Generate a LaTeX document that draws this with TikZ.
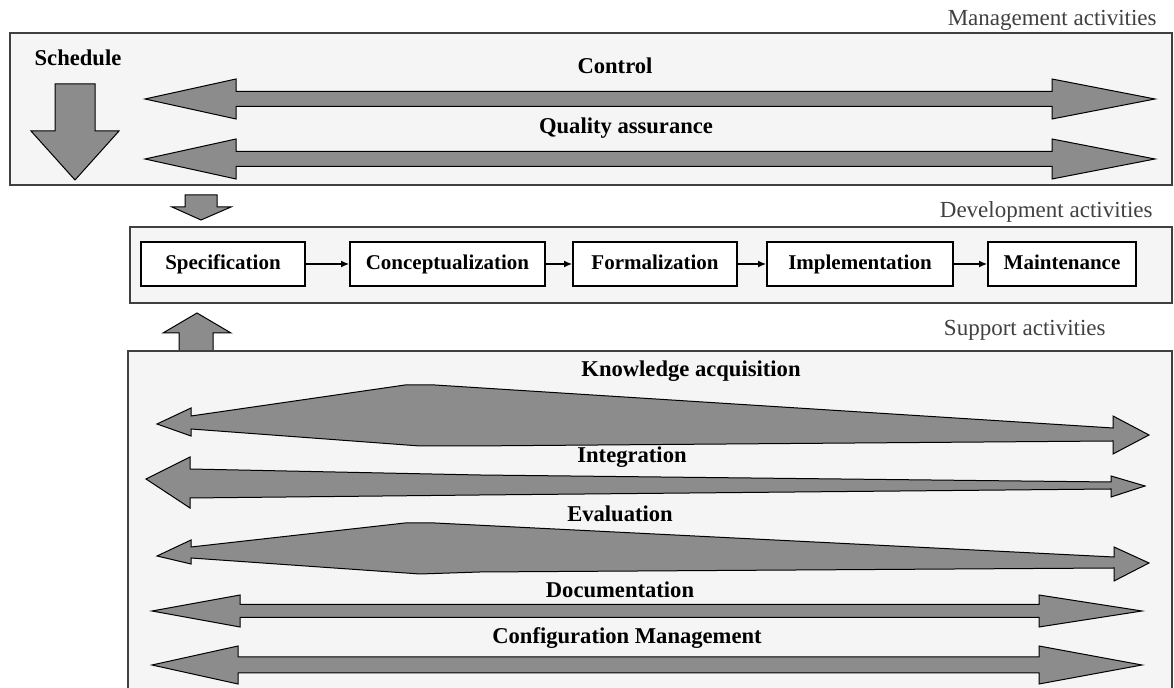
\documentclass[tikz,border=0pt]{standalone}
\usepackage{fontspec}
\setmainfont{Liberation Serif}
\usetikzlibrary{arrows.meta}
\definecolor{arrowgray}{HTML}{8C8C8C}
\definecolor{panelgray}{HTML}{F5F5F5}
\definecolor{titlegray}{HTML}{404040}
\tikzset{
  panel/.style={draw=black!75, fill=panelgray, line width=0.75pt},
  blockarrow/.style={draw=black, fill=arrowgray, line width=0.5pt, line join=miter},
  phase/.style={draw=black, fill=white, line width=1pt, minimum height=22pt, inner sep=0pt,
    text height=7.5pt, text depth=2pt, font=\fontsize{10.5}{12}\selectfont\bfseries},
  activity/.style={anchor=base, inner sep=0pt, font=\fontsize{11.3}{13}\selectfont\bfseries},
  grouptitle/.style={anchor=base east, inner sep=0pt, text=titlegray, font=\fontsize{11.5}{13}\selectfont},
  flow/.style={-{Latex[length=4pt,width=3.5pt]}, line width=0.6pt}
}
\begin{document}
\begin{tikzpicture}[x=0.5pt,y=-0.5pt]
\useasboundingbox (0,0) rectangle (1174,688);
\fill[white] (0,0) rectangle (1174,688);

% management activities
\draw[panel] (10,33) rectangle (1172,185);
\node[grouptitle] (mgmttitle) at (1157,26) {Management activities};
\node[activity] (schedule) at (78,66) {Schedule};
\draw[blockarrow] (55,84) -- (95,84) -- (95,131) -- (119,131) -- (75,180) -- (31,131) -- (55,131) -- cycle;
\node[activity] (control) at (615,74) {Control};
\def\cy{99}
\draw[blockarrow] (145,\cy) -- (236,\cy-20) -- (236,\cy-7.5) -- (1052,\cy-7.5) -- (1052,\cy-20) -- (1155,\cy)
  -- (1052,\cy+20) -- (1052,\cy+7.5) -- (236,\cy+7.5) -- (236,\cy+20) -- cycle;
\node[activity] (quality) at (626,134) {Quality assurance};
\def\cy{159}
\draw[blockarrow] (145,\cy) -- (236,\cy-20) -- (236,\cy-7.5) -- (1052,\cy-7.5) -- (1052,\cy-20) -- (1155,\cy)
  -- (1052,\cy+20) -- (1052,\cy+7.5) -- (236,\cy+7.5) -- (236,\cy+20) -- cycle;

\draw[blockarrow] (185,195) -- (217,195) -- (217,207) -- (231,207) -- (201,220) -- (172,207) -- (185,207) -- cycle;

% development activities
\draw[panel] (130,227) rectangle (1172,303);
\node[grouptitle] (devtitle) at (1153,218) {Development activities};
\node[phase, minimum width=82pt] (spec) at (223,264) {Specification};
\node[phase, minimum width=97.5pt] (concept) at (447.5,264) {Conceptualization};
\node[phase, minimum width=82pt] (formal) at (655,264) {Formalization};
\node[phase, minimum width=93pt] (impl) at (860,264) {Implementation};
\node[phase, minimum width=74pt] (maint) at (1062,264) {Maintenance};
\draw[flow] (spec) -- (concept);
\draw[flow] (concept) -- (formal);
\draw[flow] (formal) -- (impl);
\draw[flow] (impl) -- (maint);

\draw[blockarrow] (179,351) -- (179,333) -- (163,333) -- (197,313) -- (231,333) -- (213,333) -- (213,351) -- cycle;

% support activities
\draw[panel] (128,689) -- (128,351) -- (1172,351) -- (1172,689);
\node[grouptitle] (supptitle) at (1106,336) {Support activities};
\node[activity] (knowledge) at (691,377) {Knowledge acquisition};
\draw[blockarrow] (157,424) -- (191,408) -- (191,416) -- (405,385) -- (435,385) -- (1113,428) -- (1113,416) -- (1149,435)
  -- (1113,454) -- (1113,441) -- (470,446) -- (420,446) -- (191,429) -- (191,436) -- cycle;
\node[activity] (integration) at (632,463) {Integration};
\draw[blockarrow] (146,479) -- (190,457) -- (190,469) -- (480,475) -- (1111,482) -- (1111,476) -- (1145,486)
  -- (1111,497) -- (1111,489) -- (480,495) -- (190,498) -- (190,508) -- cycle;
\node[activity] (evaluation) at (620,522) {Evaluation};
\draw[blockarrow] (157,556) -- (191,540) -- (191,547) -- (405,523) -- (435,523) -- (1114,557) -- (1114,547) -- (1149,563)
  -- (1114,581) -- (1114,568) -- (480,572) -- (420,574) -- (191,558) -- (191,564) -- cycle;
\node[activity] (documentation) at (620,598) {Documentation};
\def\cy{611}
\draw[blockarrow] (152,\cy) -- (240,\cy-16) -- (240,\cy-6.5) -- (1039,\cy-6.5) -- (1039,\cy-16) -- (1142,\cy)
  -- (1039,\cy+16) -- (1039,\cy+6.5) -- (240,\cy+6.5) -- (240,\cy+16) -- cycle;
\node[activity] (config) at (627,644) {Configuration Management};
\def\cy{665}
\draw[blockarrow] (152,\cy) -- (238,\cy-19) -- (238,\cy-8) -- (1039,\cy-8) -- (1039,\cy-19) -- (1142,\cy)
  -- (1039,\cy+19) -- (1039,\cy+8) -- (238,\cy+8) -- (238,\cy+19) -- cycle;
\end{tikzpicture}
\end{document}
